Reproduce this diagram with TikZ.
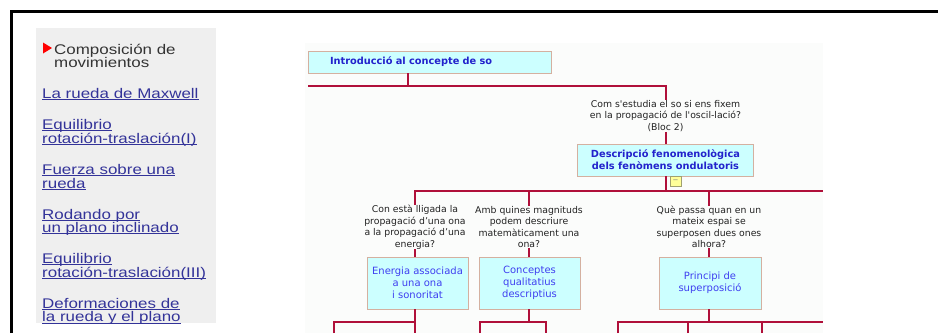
\documentclass[tikz,border=0pt]{standalone}
\usepackage{fontspec}
\setmainfont{DejaVu Sans}
\newfontfamily\panelfont[FakeStretch=1.21]{Liberation Sans}
\usepackage{xcolor}
\usetikzlibrary{positioning}

\definecolor{linkblue}{HTML}{333399}
\definecolor{curgray}{HTML}{333333}
\definecolor{panelgray}{HTML}{EFEFEF}
\definecolor{diagbg}{HTML}{FBFCFB}
\definecolor{boxfill}{HTML}{CCFFFF}
\definecolor{boxedge}{HTML}{D4B0A0}
\definecolor{titleblue}{HTML}{2222CC}
\definecolor{textblue}{HTML}{3F3FF0}
\definecolor{branchred}{HTML}{B0103A}
\definecolor{qgray}{HTML}{222222}
\definecolor{togglefill}{HTML}{FFFF99}
\definecolor{toggleedge}{HTML}{A0A070}

\newsavebox\lnkbox
\newcommand{\lnk}[1]{\sbox\lnkbox{#1}\rlap{\rule[-1.6pt]{\wd\lnkbox}{0.9pt}}\usebox\lnkbox}

\begin{document}
\begin{tikzpicture}[
    x=1pt, y=-1pt,
    % Define common styles
        conbox/.style={draw=boxedge, fill=boxfill, line width=0.8pt, align=center, inner sep=0pt},
        headbox/.style={conbox, font=\bfseries\fontsize{9.8}{12}\selectfont, text=titleblue},
        topicbox/.style={conbox, minimum width=101pt, minimum height=52pt, font=\fontsize{10}{12}\selectfont, text=textblue},
        question/.style={align=center, inner sep=0pt, font=\fontsize{9.3}{11.5}\selectfont, text=qgray},
        branch/.style={draw=branchred, line width=2pt},
        link/.style={anchor=base west, align=left, inner sep=0pt, text=linkblue, font=\panelfont\fontsize{14}{13.6}\selectfont}
    ]

        % Frame and backgrounds
        \useasboundingbox (0,0) rectangle (938,333);
        \draw[line width=3pt] (11,333) -- (11,11) -- (938,11);
        \fill[panelgray] (36,28) rectangle (216,323);
        \fill[diagbg] (305,43) rectangle (823,333);

        % Side menu (base = last line)
        \fill[red] (43,42.5) -- (52,48) -- (43,53.5) -- cycle;
        \node[link, text=curgray] (current) at (54,67.9) {Composición de\\movimientos};
        \node[link] (maxwell) at (42,98.7) {\lnk{La rueda de Maxwell}};
        \node[link] (equilone) at (42,143) {\lnk{Equilibrio}\\\lnk{rotación-traslación(I)}};
        \node[link] (fuerza) at (42,188) {\lnk{Fuerza sobre una}\\\lnk{rueda}};
        \node[link] (rodando) at (42,232.7) {\lnk{Rodando por}\\\lnk{un plano inclinado}};
        \node[link] (equilthree) at (42,277.3) {\lnk{Equilibrio}\\\lnk{rotación-traslación(III)}};
        \node[link] (deform) at (42,321.8) {\lnk{Deformaciones de}\\\lnk{la rueda y el plano}};

        % Top of the map
        \node[headbox, align=left, text width=199pt, inner xsep=22pt, minimum height=22pt] (intro) at (429.5,62) {Introducció al concepte de so};
        \coordinate (introjoin) at (408,86);
        \coordinate (leftend) at (308,86);
        \node[question] (qprop) at (665.5,116) {Com s\textquotesingle estudia el so si ens fixem\\en la propagació de l\textquotesingle oscil-lació?\\(Bloc 2)};
        \node[headbox, minimum width=176pt, minimum height=32pt] (descr) at (665.5,160) {Descripció fenomenològica\\dels fenòmens ondulatoris};
        \node[draw=toggleedge, fill=togglefill, minimum width=11pt, minimum height=10pt, inner sep=0pt, text=gray, font=\fontsize{7}{7}\selectfont] (toggle) at (675.5,181) {−};

        % Second row
        \coordinate (rowright) at (823,191);
        \node[question] (qenergy) at (415,227) {Con està lligada la\\propagació d’una ona\\a la propagació d’una\\energia?};
        \node[question] (qwaves) at (529,227) {Amb quines magnituds\\podem descriure\\matemàticament una\\ona?};
        \node[question] (qsuper) at (709,227) {Què passa quan en un\\mateix espai se\\superposen dues ones\\alhora?};
        \node[topicbox] (energy) at (417.5,283) {Energia associada\\a una ona\\i sonoritat};
        \node[topicbox] (waves) at (529.5,283) {Conceptes\\qualitatius\\descriptius};
        \node[topicbox, minimum width=102pt] (super) at (710,283) {Principi de\\superposició};

        % Bottom branch ends
        \coordinate (ejoin) at (415,322);
        \coordinate (ea) at (334,333);
        \coordinate (eb) at (415,333);
        \coordinate (wjoin) at (529,322);
        \coordinate (wa) at (480,333);
        \coordinate (wb) at (546,333);
        \coordinate (sjoin) at (709,322);
        \coordinate (sright) at (823,322);
        \coordinate (sa) at (618,333);
        \coordinate (sb) at (688,333);
        \coordinate (sc) at (762,333);

        % Draw upper connectors
        \draw[branch] (intro.south -| introjoin) -- (introjoin);
        \draw[branch] (leftend) -| (qprop.north);
        \draw[branch] (qprop) -- (descr);
        \draw[branch] (descr.south) -- (descr.south |- rowright);
        \draw[branch] (qenergy.north) |- (rowright);
        \draw[branch] (qwaves.north) -- (qwaves.north |- rowright);
        \draw[branch] (qsuper.north) -- (qsuper.north |- rowright);

        % Draw question to box connectors
        \draw[branch] (qenergy.south) -- (qenergy.south |- energy.north);
        \draw[branch] (qwaves.south) -- (qwaves.south |- waves.north);
        \draw[branch] (qsuper.south) -- (qsuper.south |- super.north);

        % Draw lower connectors
        \draw[branch] (energy.south -| eb) -- (eb);
        \draw[branch] (ea) |- (ejoin);
        \draw[branch] (waves.south -| wjoin) -- (wjoin);
        \draw[branch] (wa) |- (wjoin -| wb) -- (wb);
        \draw[branch] (super.south -| sjoin) -- (sjoin);
        \draw[branch] (sa) |- (sright);
        \draw[branch] (sb) -- (sb |- sright);
        \draw[branch] (sc) -- (sc |- sright);

    \end{tikzpicture}
\end{document}
